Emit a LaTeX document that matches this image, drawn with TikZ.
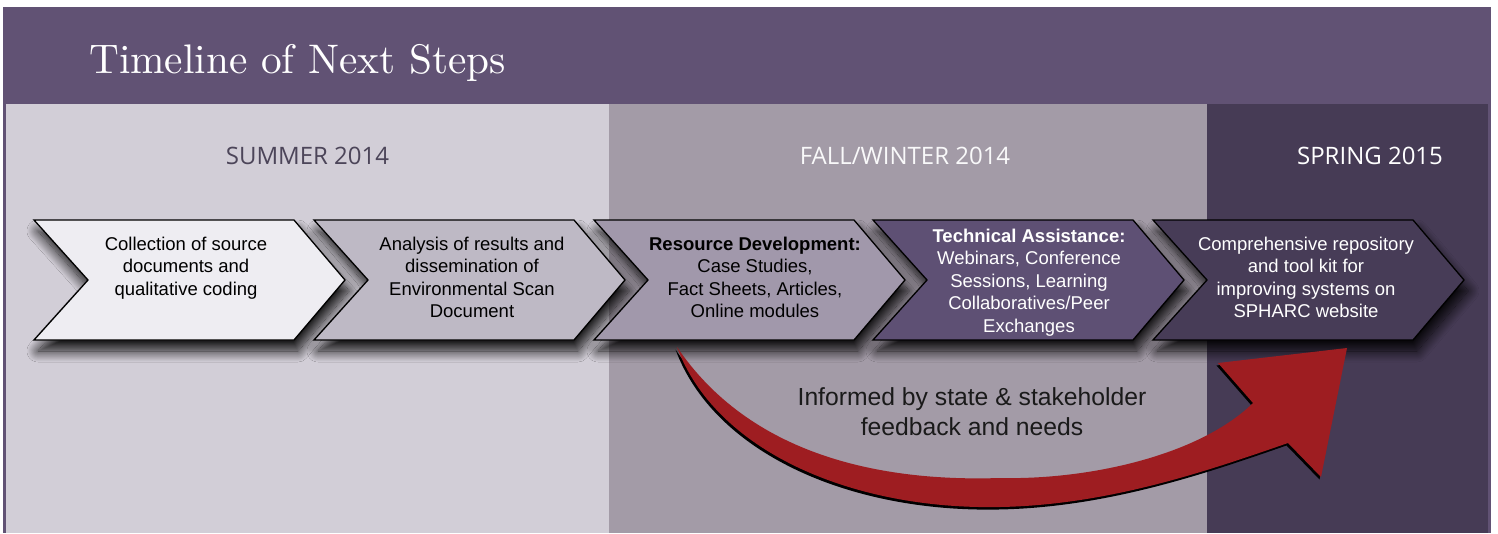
\documentclass[tikz,border=0pt]{standalone}
\usepackage{fontspec}
\newfontfamily\arialfont{Liberation Sans}
\newfontfamily\seasonfont{Open Sans}
\newfontfamily\titlefont{lmroman10-regular}[Extension=.otf]
\usetikzlibrary{shadows.blur}

\definecolor{banner}{HTML}{615274}
\definecolor{summerbg}{HTML}{D2CED7}
\definecolor{fallbg}{HTML}{A39BA7}
\definecolor{springbg}{HTML}{463B55}
\definecolor{chevA}{HTML}{EEEDF2}
\definecolor{chevB}{HTML}{BEB9C5}
\definecolor{chevC}{HTML}{A198AB}
\definecolor{chevD}{HTML}{5E5074}
\definecolor{chevE}{HTML}{473C57}
\definecolor{arrowred}{HTML}{9E1D21}
\definecolor{summertxt}{HTML}{4C4559}
\definecolor{darktxt}{HTML}{1A1A1A}

\begin{document}
\begin{tikzpicture}[x=1pt,y=-1pt,
  chevron/.style={draw=black, line width=1.3pt, line join=miter,
    blur shadow={shadow xshift=4pt, shadow yshift=-11pt,
      shadow blur radius=11pt, shadow blur steps=18, shadow opacity=92}},
  steptext/.style={font=\arialfont\fontsize{18.5}{22.5}\selectfont,
    align=center, anchor=north, inner sep=0pt},
  season/.style={font=\seasonfont\fontsize{24}{28}\selectfont,
    anchor=base, inner sep=0pt}]

% canvas and frame
\fill[white] (0,0) rectangle (1498,533);
\useasboundingbox (0,0) rectangle (1498,533);
\fill[banner] (3,7) rectangle (1491,533);

% season panels
\fill[summerbg] (6,104) rectangle (609,533);
\fill[fallbg] (609,104) rectangle (1207,533);
\fill[springbg] (1207,104) rectangle (1488,533);

% heading
\node[anchor=base west, inner sep=0pt, text=white,
  font=\titlefont\fontsize{41.3}{48}\selectfont] (title) at (89,73) {Timeline of Next Steps};

% season labels
\node[season, text=summertxt] (summer) at (307.5,164) {SUMMER 2014};
\node[season, text=white!94!fallbg] (fall) at (905,164) {FALL/WINTER 2014};
\node[season, text=white] (spring) at (1370,164) {SPRING 2015};

% step chevrons
\draw[chevron, fill=chevA] (34,220) -- (294,220) -- (345,280) -- (294,340) -- (34,340) -- (88,280) -- cycle;
\draw[chevron, fill=chevB] (314,220) -- (574,220) -- (625,280) -- (574,340) -- (314,340) -- (368,280) -- cycle;
\draw[chevron, fill=chevC] (594,220) -- (854,220) -- (905,280) -- (854,340) -- (594,340) -- (648,280) -- cycle;
\draw[chevron, fill=chevD] (873,220) -- (1133,220) -- (1184,280) -- (1133,340) -- (873,340) -- (927,280) -- cycle;
\draw[chevron, fill=chevE] (1153,220) -- (1413,220) -- (1464,280) -- (1413,340) -- (1153,340) -- (1207,280) -- cycle;

% step texts
\node[steptext, text=black] (s1) at (186,236.5)
  {Collection of source\\documents and\\qualitative coding};
\node[steptext, text=black] (s2) at (472,236.5)
  {Analysis of results and\\dissemination of\\Environmental Scan\\Document};
\node[steptext, text=black] (s3) at (755,236.5)
  {\textbf{Resource Development:}\\Case Studies,\\Fact Sheets, Articles,\\Online modules};
\node[steptext, text=white] (s4) at (1029,228.5)
  {\textbf{Technical Assistance:}\\Webinars, Conference\\Sessions, Learning\\Collaboratives/Peer\\Exchanges};
\node[steptext, text=white] (s5) at (1306,236.5)
  {Comprehensive repository\\and tool kit for\\improving systems on\\SPHARC website};

% curved feedback arrow with its dark edge
\fill[arrowred, preaction={fill=black, transform canvas={xshift=-1.5pt, yshift=-2.5pt}}]
  (677,347) .. controls (715,450) and (850,510) .. (1000,507)
  .. controls (1110,505) and (1210,470) .. (1288,443)
  -- (1321,477) -- (1347,348) -- (1218,363) -- (1253,403)
  .. controls (1200,455) and (1090,480) .. (1000,478)
  .. controls (880,482) and (750,455) .. (677,347) -- cycle;

\node[font=\arialfont\fontsize{24.7}{30}\selectfont, text=darktxt,
  align=center, anchor=north, inner sep=0pt] (note) at (972,387)
  {Informed by state \& stakeholder\\feedback and needs};
\end{tikzpicture}
\end{document}
